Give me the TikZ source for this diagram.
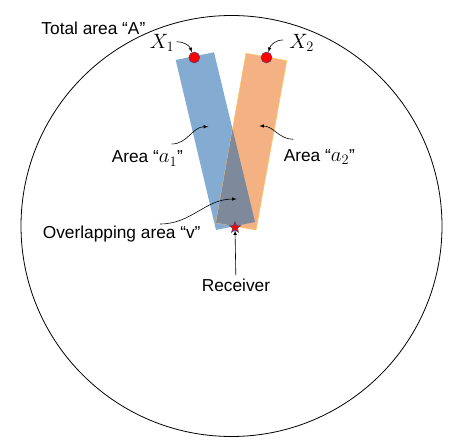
\documentclass[tikz,border=0pt]{standalone}
\usepackage{fontspec}
\setmainfont{Liberation Sans}
\usetikzlibrary{arrows,shapes.geometric}

\definecolor{beamblue}{RGB}{132,172,210}
\definecolor{beamorange}{RGB}{244,177,131}
\definecolor{beamedge}{RGB}{255,196,90}
\definecolor{overlapgray}{RGB}{126,138,155}
\definecolor{dotedge}{RGB}{47,82,143}

\newcommand{\bigmath}[1]{{\fontsize{20}{22}\selectfont$#1$}}

\begin{document}
\begin{tikzpicture}[x=1pt,y=1pt,font=\fontsize{17.3}{20}\selectfont]
\useasboundingbox (0,0) rectangle (475,445);

\draw [line width=0.8pt] (231.5,219) circle (210.5);

% beams
\coordinate (b1) at (175.7,385); \coordinate (b2) at (214,392.7); \coordinate (b3) at (255,223); \coordinate (b4) at (216,215);
\coordinate (o1) at (246,391.7); \coordinate (o2) at (286.7,384.3); \coordinate (o3) at (256,215); \coordinate (o4) at (216,222.3);

\fill [beamblue] (b1) -- (b2) -- (b3) -- (b4) -- cycle;
\filldraw [fill=beamorange, draw=beamedge, line width=0.6pt] (o1) -- (o2) -- (o3) -- (o4) -- cycle;
\begin{scope}
\clip (b1) -- (b2) -- (b3) -- (b4) -- cycle;
\fill [overlapgray] (o1) -- (o2) -- (o3) -- (o4) -- cycle;
\end{scope}

% transmitters and receiver
\node [circle, fill=red, draw=dotedge, line width=0.5pt, minimum size=11pt, inner sep=0pt] (d1) at (194.3,387.5) {};
\node [circle, fill=red, draw=dotedge, line width=0.5pt, minimum size=11pt, inner sep=0pt] (d2) at (266.5,387.5) {};
\node [star, star points=5, star point ratio=2.4, fill=red, draw=dotedge, line width=0.5pt, minimum size=12pt, inner sep=0pt] (rx) at (235,217.5) {};

% labels
\node (total) at (93.4,416.7) {Total area “A”};
\node (x1) at (162,402) {\bigmath{X_1}};
\node (x2) at (301.7,402) {\bigmath{X_2}};
\node (la1) at (147.3,286.5) {Area “\bigmath{a_1}”};
\node (la2) at (319.3,288) {Area “\bigmath{a_2}”};
\node (lv) at (121.7,210.5) {Overlapping area “v”};
\node (rec) at (236,159.5) {Receiver};

\coordinate (x1s) at (176.7,403.3);
\coordinate (x2s) at (283,405);
\coordinate (a1s) at (171.7,301); \coordinate (a1e) at (208.3,318.3);
\coordinate (a2s) at (293.3,305.7); \coordinate (a2e) at (259.3,319);
\coordinate (vs) at (160,221); \coordinate (ve) at (236.7,246);

\draw [-latex, line width=0.6pt] (x1s) to[out=0, in=110] (d1.115);
\draw [-latex, line width=0.6pt] (x2s) to[out=180, in=75] (d2.70);
\draw [-latex, line width=0.6pt] (a1s) to[out=0, in=180] (a1e);
\draw [-latex, line width=0.6pt] (a2s) to[out=180, in=0] (a2e);
\draw [-latex, line width=0.6pt] (vs) to[out=0, in=180] (ve);
\draw [-latex, line width=0.6pt] (rec) -- (rx);
\end{tikzpicture}
\end{document}
